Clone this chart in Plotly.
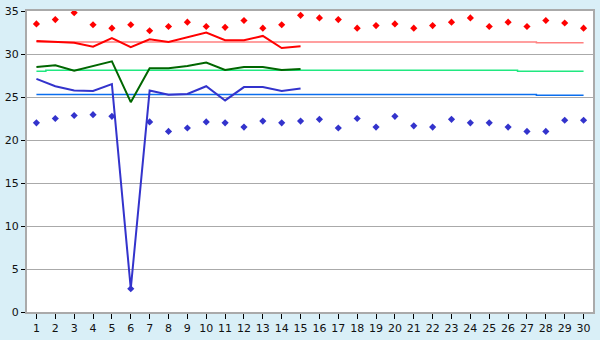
import plotly.graph_objects as go

days = list(range(1, 31))
days15 = list(range(1, 16))

max_pts = [33.5, 34.0, 34.8, 33.4, 33.0, 33.4, 32.7, 33.2, 33.7, 33.2,
           33.1, 33.9, 33.0, 33.4, 34.5, 34.2, 34.0, 33.0, 33.3, 33.5,
           33.0, 33.3, 33.7, 34.2, 33.2, 33.7, 33.2, 33.9, 33.6, 33.0]
min_pts = [22.0, 22.5, 22.85, 22.95, 22.75, 2.7, 22.1, 21.0, 21.4, 22.1,
           22.0, 21.5, 22.2, 22.0, 22.2, 22.4, 21.4, 22.5, 21.5, 22.75,
           21.65, 21.5, 22.4, 22.0, 22.0, 21.5, 21.0, 21.0, 22.3, 22.3]

red_line = [31.5, 31.4, 31.3, 30.85, 31.85, 30.8, 31.7, 31.4, 31.95, 32.5,
            31.6, 31.6, 32.1, 30.7, 30.9]
green_line = [28.5, 28.7, 28.05, 28.6, 29.15, 24.4, 28.35, 28.35, 28.6, 29.0,
              28.15, 28.5, 28.5, 28.15, 28.25]
blue_line = [27.1, 26.25, 25.75, 25.7, 26.5, 2.7, 25.75, 25.25, 25.35, 26.25,
             24.6, 26.15, 26.15, 25.7, 26.0]

red_avg = [31.4] * 27 + [31.3] * 3
green_avg = [28.0] + [28.1] * 25 + [28.0] * 4
blue_avg = [25.3] * 27 + [25.2] * 3

y_ticks = [0, 5, 10, 15, 20, 25, 30, 35]

fig = go.Figure()
fig.add_trace(go.Scatter(x=days, y=red_avg, mode="lines", line=dict(color="#FF8080", width=1.5, shape="hvh")))
fig.add_trace(go.Scatter(x=days, y=green_avg, mode="lines", line=dict(color="#20E880", width=1.5, shape="hvh")))
fig.add_trace(go.Scatter(x=days, y=blue_avg, mode="lines", line=dict(color="#0A6EEE", width=1.5, shape="hvh")))
fig.add_trace(go.Scatter(x=days15, y=red_line, mode="lines", line=dict(color="#FF0000", width=2)))
fig.add_trace(go.Scatter(x=days15, y=green_line, mode="lines", line=dict(color="#006600", width=2)))
fig.add_trace(go.Scatter(x=days15, y=blue_line, mode="lines", line=dict(color="#3333CC", width=2)))
fig.add_trace(go.Scatter(x=days, y=max_pts, mode="markers", marker=dict(color="#FF0000", symbol="diamond", size=5.5)))
fig.add_trace(go.Scatter(x=days, y=min_pts, mode="markers", marker=dict(color="#3333CC", symbol="diamond", size=5.5)))

fig.update_layout(
    width=600, height=340,
    margin=dict(l=20, r=5, t=5, b=20),
    paper_bgcolor="#D9EFF7",
    plot_bgcolor="#FFFFFF",
    showlegend=False,
    hovermode=False,
    font=dict(family="DejaVu Sans", size=11, color="#111111"),
)
fig.update_xaxes(
    range=[0.5, 30.5], tickmode="array", tickvals=days, ticktext=[str(d) for d in days],
    showgrid=False, zeroline=False, showline=True, mirror=True, linecolor="#AAAAAA", linewidth=2,
    ticks="outside", ticklen=5, tickcolor="#000000", tickfont=dict(size=11),
)
fig.update_yaxes(
    range=[0, 35], tickmode="array", tickvals=y_ticks, ticktext=[str(v) for v in y_ticks],
    showgrid=True, gridcolor="#AAAAAA", gridwidth=1, zeroline=False,
    showline=True, mirror=True, linecolor="#AAAAAA", linewidth=2,
    ticks="outside", ticklen=4, tickcolor="#000000", tickfont=dict(size=11),
)

fig.write_html("out.html")
